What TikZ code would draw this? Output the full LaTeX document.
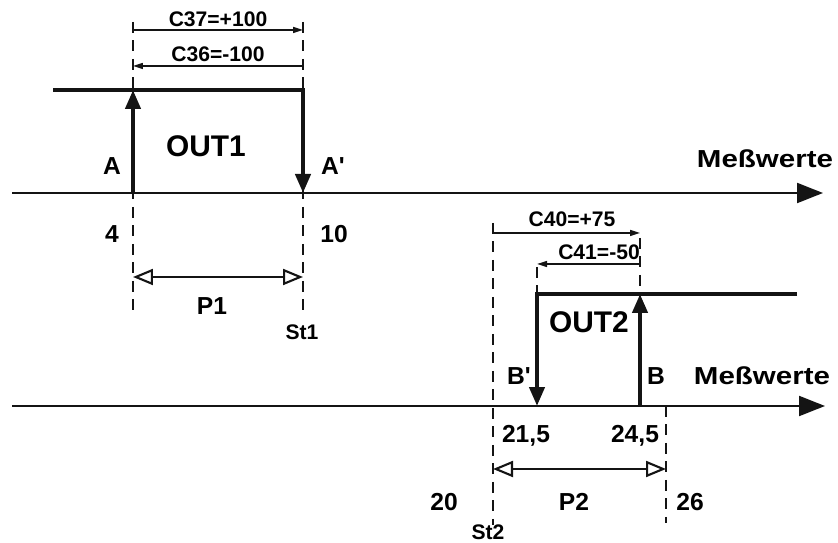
\documentclass[tikz,border=0pt]{standalone}
\usepackage{fontspec}
\setmainfont{Liberation Sans}
\newfontfamily\widesans[FakeStretch=1.2]{Liberation Sans}
\usetikzlibrary{arrows.meta, positioning, calc}
\definecolor{mydark}{RGB}{20,20,20}
\tikzset{
  axis/.style={line width=1.2pt, color=mydark, -{Triangle[length=0.52cm, width=0.4cm]}},
  signal/.style={line width=2.4pt, color=mydark, line join=miter, -{Triangle[length=0.38cm, width=0.3cm]}},
  guide/.style={line width=1.1pt, color=mydark, dash pattern=on 0.22cm off 0.15cm},
  dimarrow/.style={line width=0.9pt, color=mydark, -{Triangle[length=0.2cm, width=0.12cm]}},
  spanarrow/.style={line width=1.2pt, color=mydark,
    {Triangle[open, length=0.4cm, width=0.32cm]}-{Triangle[open, length=0.4cm, width=0.32cm]}},
  biglbl/.style={font=\bfseries\fontsize{14}{16}\selectfont, inner sep=0pt, anchor=base},
  axislbl/.style={font=\widesans\bfseries\fontsize{14}{16}\selectfont, inner sep=0pt, anchor=base},
  smalllbl/.style={font=\bfseries\fontsize{12}{14}\selectfont, inner sep=0pt, anchor=base},
  outlbl/.style={font=\bfseries\fontsize{17}{19}\selectfont, inner sep=0pt, anchor=base}
}
\begin{document}
\begin{tikzpicture}[x=0.02cm, y=-0.02cm]
  \useasboundingbox (0,0) rectangle (838,543);

  % Axis 1
  \coordinate (ax1s) at (12,193);
  \coordinate (ax1e) at (823,193);
  \draw[axis] (ax1s) -- (ax1e);
  \node[axislbl] (mw1) at (765,168) {Meßwerte};

  % Guides OUT1
  \coordinate (g1t) at (133,22);  \coordinate (g1b) at (133,313);
  \coordinate (g2t) at (303,22);  \coordinate (g2b) at (303,315);
  \draw[guide] (g1t) -- (g1b);
  \draw[guide] (g2t) -- (g2b);

  % Hysteresis C36/C37
  \coordinate (c37l) at (133,30); \coordinate (c37r) at (303,30);
  \coordinate (c36l) at (133,66); \coordinate (c36r) at (303,66);
  \draw[dimarrow] (c37l) -- (c37r);
  \draw[dimarrow] (c36r) -- (c36l);
  \node[smalllbl] (c37) at (218,27) {C37=+100};
  \node[smalllbl] (c36) at (218,62) {C36=-100};

  % Output 1
  \coordinate (o1l) at (53,90);   \coordinate (o1r) at (303,90);
  \coordinate (a0) at (133,193);  \coordinate (a1) at (133,90);
  \coordinate (ap) at (303,193);
  \draw[signal] (o1l) -- (o1r) -- (ap);
  \draw[signal] (a0) -- (a1);
  \node[outlbl] (out1) at (206,157) {OUT1};
  \node[biglbl] (lA) at (112,175) {A};
  \node[biglbl] (lAp) at (333,175) {A\textquotesingle};
  \node[biglbl] (v4) at (112,243) {4};
  \node[biglbl] (v10) at (334,243) {10};

  % Period P1
  \coordinate (p1l) at (133,277); \coordinate (p1r) at (303,277);
  \draw[spanarrow] (p1l) -- (p1r);
  \node[biglbl] (p1) at (212,315) {P1};
  \node[smalllbl] (st1) at (302,340) {St1};

  % Axis 2
  \coordinate (ax2s) at (12,406);
  \coordinate (ax2e) at (825,406);
  \draw[axis] (ax2s) -- (ax2e);
  \node[axislbl] (mw2) at (762,385) {Meßwerte};

  % Guides OUT2
  \coordinate (g3t) at (493,223); \coordinate (g3b) at (493,525);
  \coordinate (g4t) at (666,406); \coordinate (g4b) at (666,523);
  \coordinate (g5t) at (640,238); \coordinate (g5b) at (640,294);
  \coordinate (g6t) at (537,267); \coordinate (g6b) at (537,294);
  \draw[guide] (g3t) -- (g3b);
  \draw[guide] (g4t) -- (g4b);
  \draw[guide] (g5t) -- (g5b);
  \draw[guide] (g6t) -- (g6b);

  % Hysteresis C40/C41
  \coordinate (c40l) at (493,233); \coordinate (c40r) at (640,233);
  \coordinate (c41l) at (537,264); \coordinate (c41r) at (640,264);
  \draw[dimarrow] (c40l) -- (c40r);
  \draw[dimarrow] (c41r) -- (c41l);
  \node[smalllbl] (c40) at (572,227) {C40=+75};
  \node[smalllbl] (c41) at (599,260) {C41=-50};

  % Output 2
  \coordinate (o2r) at (797,294); \coordinate (o2l) at (537,294);
  \coordinate (bp) at (537,406);
  \coordinate (b0) at (640,406);  \coordinate (b1) at (640,294);
  \draw[signal] (o2r) -- (o2l) -- (bp);
  \draw[signal] (b0) -- (b1);
  \node[outlbl] (out2) at (589,333) {OUT2};
  \node[biglbl] (lBp) at (519,385) {B\textquotesingle};
  \node[biglbl] (lB) at (656,385) {B};
  \node[biglbl] (v215) at (526,442) {21,5};
  \node[biglbl] (v245) at (635,442) {24,5};

  % Period P2
  \coordinate (p2l) at (493,469); \coordinate (p2r) at (666,469);
  \draw[spanarrow] (p2l) -- (p2r);
  \node[biglbl] (v20) at (444,510) {20};
  \node[biglbl] (p2) at (574,510) {P2};
  \node[biglbl] (v26) at (690,510) {26};
  \node[smalllbl] (st2) at (488,539) {St2};
\end{tikzpicture}
\end{document}
